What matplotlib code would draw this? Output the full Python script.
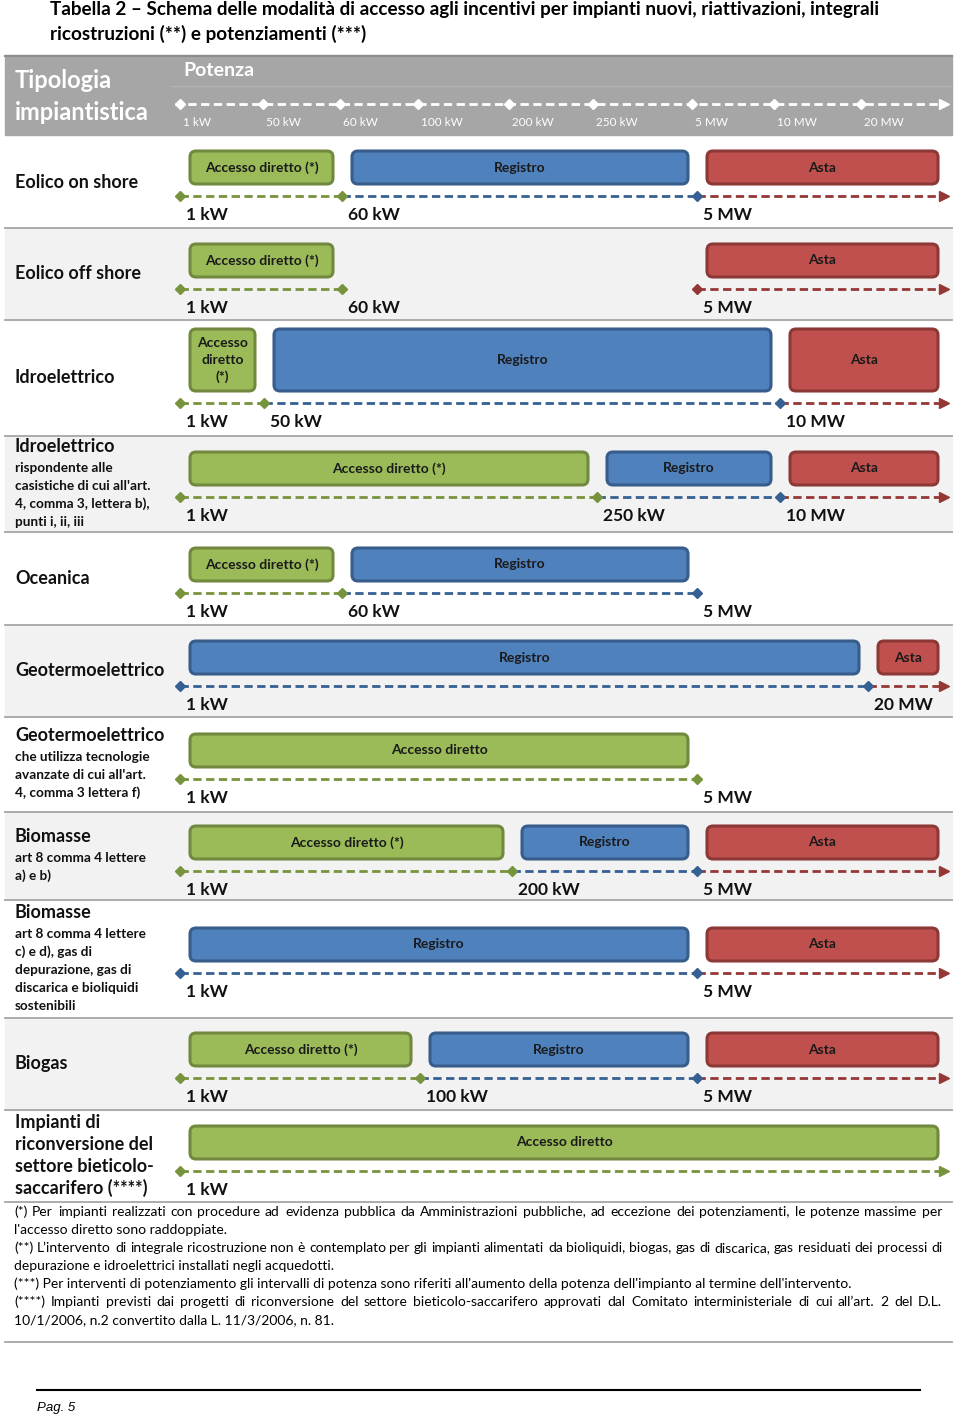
import matplotlib.pyplot as plt
from matplotlib.patches import FancyBboxPatch, Rectangle

plt.rcParams['font.family'] = ['Lato', 'DejaVu Sans']

# --- dati -----------------------------------------------------------------
title_lines = [
    "Tabella 2 \u2013 Schema delle modalità di accesso agli incentivi per impianti nuovi, riattivazioni, integrali",
    "ricostruzioni (**) e potenziamenti (***)",
]

power_labels = ["1 kW", "50 kW", "60 kW", "100 kW", "200 kW", "250 kW", "5 MW", "10 MW", "20 MW"]

row_titles = [
    "Eolico on shore", "Eolico off shore", "Idroelettrico", "Idroelettrico", "Oceanica",
    "Geotermoelettrico", "Geotermoelettrico", "Biomasse", "Biomasse", "Biogas",
    "Impianti di\nriconversione del\nsettore bieticolo-\nsaccarifero (****)",
]
row_subtitles = [
    "", "", "",
    "rispondente alle\ncasistiche di cui all'art.\n4, comma 3, lettera b),\npunti i, ii, iii",
    "", "",
    "che utilizza tecnologie\navanzate di cui all'art.\n4, comma 3 lettera f)",
    "art 8 comma 4 lettere\na) e b)",
    "art 8 comma 4 lettere\nc) e d), gas di\ndepurazione, gas di\ndiscarica e bioliquidi\nsostenibili",
    "", "",
]

# soglie di inizio / fine di ogni fascia (None = oltre)
row_starts = [
    ["1 kW", "60 kW", "5 MW"],
    ["1 kW", "5 MW"],
    ["1 kW", "50 kW", "10 MW"],
    ["1 kW", "250 kW", "10 MW"],
    ["1 kW", "60 kW"],
    ["1 kW", "20 MW"],
    ["1 kW"],
    ["1 kW", "200 kW", "5 MW"],
    ["1 kW", "5 MW"],
    ["1 kW", "100 kW", "5 MW"],
    ["1 kW"],
]
row_ends = [
    ["60 kW", "5 MW", None],
    ["60 kW", None],
    ["50 kW", "10 MW", None],
    ["250 kW", "10 MW", None],
    ["60 kW", "5 MW"],
    ["20 MW", None],
    ["5 MW"],
    ["200 kW", "5 MW", None],
    ["5 MW", None],
    ["100 kW", "5 MW", None],
    [None],
]
row_modes = [
    ["Accesso diretto (*)", "Registro", "Asta"],
    ["Accesso diretto (*)", "Asta"],
    ["Accesso\ndiretto\n(*)", "Registro", "Asta"],
    ["Accesso diretto (*)", "Registro", "Asta"],
    ["Accesso diretto (*)", "Registro"],
    ["Registro", "Asta"],
    ["Accesso diretto"],
    ["Accesso diretto (*)", "Registro", "Asta"],
    ["Registro", "Asta"],
    ["Accesso diretto (*)", "Registro", "Asta"],
    ["Accesso diretto"],
]

footnotes = [
    ("(*) Per impianti realizzati con procedure ad evidenza pubblica da Amministrazioni pubbliche, ad eccezione dei potenziamenti, le potenze massime per", True),
    ("l'accesso diretto sono raddoppiate.", False),
    ("(**) L\u2019intervento di integrale ricostruzione non è contemplato per gli impianti alimentati da bioliquidi, biogas, gas di discarica, gas residuati dei processi di", True),
    ("depurazione e idroelettrici installati negli acquedotti.", False),
    ("(***) Per interventi di potenziamento gli intervalli di potenza sono riferiti all'aumento della potenza dell'impianto al termine dell'intervento.", False),
    ("(****) Impianti previsti dai progetti di riconversione del settore bieticolo-saccarifero approvati dal Comitato interministeriale di cui all\u2019art. 2 del D.L.", True),
    ("10/1/2006, n.2 convertito dalla L. 11/3/2006, n. 81.", False),
]

# --- impaginazione ----------------------------------------------------------
power_x = dict(zip(power_labels, [180, 264, 342, 420, 512, 597, 697, 780, 868]))
x_end = 947
row_edges = [137, 228, 320, 436, 532, 625, 717, 812, 900, 1018, 1110, 1202]
line_y = [196, 289, 403, 497, 593, 686, 779, 871, 973, 1078, 1171]
box_h = [33, 33, 62, 33, 33, 33, 33, 33, 33, 33, 33]

colours = {
    "Accesso": ("#9bbb59", "#71893f", "#77933c"),
    "Registro": ("#4f81bd", "#385d8a", "#376092"),
    "Asta": ("#c0504d", "#8c3836", "#953735"),
}

fig = plt.figure(figsize=(9.6, 14.2), dpi=100)
ax = fig.add_axes([0, 0, 1, 1])
ax.set_xlim(0, 960)
ax.set_ylim(1420, 0)
ax.axis('off')

# titolo
for k, t in enumerate(title_lines):
    ax.text(50, 10 + 24 * k, t, fontsize=13.6, fontweight='bold', va='center', ha='left')

# intestazione
ax.add_patch(Rectangle((5, 55), 947, 80, color='#a6a6a6', zorder=0))
ax.plot([5, 952], [56, 56], color='#8c8c8c', lw=1.5)
ax.plot([172, 952], [86, 86], color='#b4b4b4', lw=1)
ax.text(15, 81, "Tipologia", color='white', fontsize=17, fontweight='bold', va='center')
ax.text(15, 112, "impiantistica", color='white', fontsize=17, fontweight='bold', va='center')
ax.text(183, 70, "Potenza", color='white', fontsize=14, fontweight='bold', va='center')
ax.plot([175, x_end - 6], [104, 104], color='white', lw=2, ls=(0, (3, 1.6)))
ax.plot(x_end - 3, 104, marker='>', ms=7, color='white')
for lab in power_labels:
    hx = 180 + (power_x[lab] - 180) * 0.99
    ax.plot(hx, 104, marker='D', ms=5, color='white')
    ax.text(hx + 3, 123, lab, color='white', fontsize=8.5, va='center')

# righe
for i in range(len(row_titles)):
    top, bot = row_edges[i], row_edges[i + 1]
    if i % 2 == 1:
        ax.add_patch(Rectangle((5, top), 947, bot - top, color='#f2f2f2', zorder=0))
    ax.plot([5, 952], [bot, bot], color='#a6a6a6', lw=1.3)

    # etichetta di riga, centrata in verticale
    lines = [(l, 13, 22) for l in row_titles[i].split("\n")]
    if row_subtitles[i]:
        lines += [(l, 9.8, 18) for l in row_subtitles[i].split("\n")]
    heights = [h for _, _, h in lines]
    if len(lines) > 1 and row_subtitles[i]:
        heights[1] = 21
    total = sum(heights[1:])
    y = (top + bot) / 2 - total / 2
    for k, (l, fs, _) in enumerate(lines):
        if k > 0:
            y += heights[k]
        ax.text(15, y + fs * 0.42, l, fontsize=fs, fontweight='bold', va='baseline',
                color='#111111')

    ly = line_y[i]
    bh = box_h[i]
    prev_end = None
    labels_done = set()
    for s, e, name in zip(row_starts[i], row_ends[i], row_modes[i]):
        key = "Accesso" if name.startswith("Accesso") else name
        fill, edge, dash = colours[key]
        x0 = power_x[s]
        x1 = power_x[e] if e else x_end
        ax.add_patch(FancyBboxPatch((x0 + 10, ly - 12 - bh), x1 - x0 - 19, bh,
                                    boxstyle='round,pad=0,rounding_size=6',
                                    fc=fill, ec=edge, lw=2.2, zorder=2))
        ax.text((x0 + x1) / 2 + 0.5, ly - 12 - bh / 2, name, fontsize=10, fontweight='bold',
                ha='center', va='center', color='#1a1a1a', linespacing=1.45, zorder=3)
        ax.plot([x0, x1 - (6 if e is None else 0)], [ly, ly], color=dash, lw=2,
                ls=(0, (3, 1.6)), zorder=2)
        if s != prev_end:
            ax.plot(x0, ly, marker='D', ms=5, color=dash, zorder=3)
        if e is None:
            ax.plot(x1 - 3, ly, marker='>', ms=7, color=dash, zorder=3)
        else:
            ax.plot(x1, ly, marker='D', ms=5, color=dash, zorder=3)
        prev_end = e
        for lab in (s, e):
            if lab and lab not in labels_done:
                labels_done.add(lab)
                ax.text(power_x[lab] + 6, ly + 19, lab, fontsize=12.5, fontweight='bold',
                        va='center', color='#111111')

# note (righe giustificate parola per parola)
renderer = fig.canvas.get_renderer()
for k, (line, just) in enumerate(footnotes):
    y = 1216 + 18 * k
    if not just:
        ax.text(14, y, line, fontsize=10, va='baseline')
        continue
    words = line.split(' ')
    texts = [ax.text(0, y, w, fontsize=10, va='baseline') for w in words]
    widths = [t.get_window_extent(renderer).width for t in texts]
    gap = (942 - 14 - sum(widths)) / (len(words) - 1)
    x = 14
    for t, w in zip(texts, widths):
        t.set_x(round(x))
        x += w + gap

ax.plot([5, 952], [1342, 1342], color='#a6a6a6', lw=1.3)
ax.plot([37, 920], [1390, 1390], color='black', lw=1.5)
ax.text(37, 1408, "Pag. 5", fontsize=9.5, style='italic', family='Liberation Sans', va='center')

plt.savefig("out.png", dpi=100)
